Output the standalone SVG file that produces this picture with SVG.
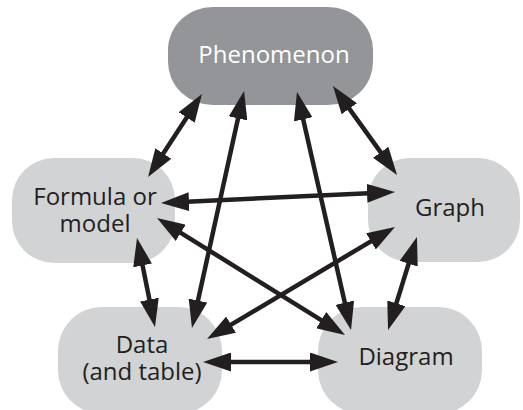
<svg xmlns="http://www.w3.org/2000/svg" width="523" height="410" viewBox="0 0 523 410">
  <defs>
    <marker id="head" viewBox="0 0 28 19" refX="18" refY="9.5" markerWidth="28" markerHeight="19" markerUnits="userSpaceOnUse" orient="auto-start-reverse">
      <path d="M0,0 L28,9.5 L0,19 Z" fill="#231f20"/>
    </marker>
    <style>
      .node { fill: #d1d3d4; }
      .main { fill: #939598; }
      .label { font-family: "Open Sans", "Liberation Sans", sans-serif; font-size: 24px; fill: #231f20; text-anchor: middle; }
      .light { fill: #ffffff; }
      .link { stroke: #231f20; stroke-width: 4.5; fill: none; marker-start: url(#head); marker-end: url(#head); }
    </style>
  </defs>
  <rect width="523" height="410" fill="#ffffff"/>

  <g id="phenomenon">
    <rect class="main" x="168" y="7" width="205" height="98" rx="45" ry="43"/>
    <text class="label light" x="274" y="63">Phenomenon</text>
  </g>
  <g id="formula">
    <rect class="node" x="12" y="158" width="163" height="105" rx="42" ry="42"/>
    <text class="label" x="95" y="205">Formula or</text>
    <text class="label" x="95" y="232">model</text>
  </g>
  <g id="graph">
    <rect class="node" x="368" y="158" width="152" height="104" rx="42" ry="42"/>
    <text class="label" x="450" y="216">Graph</text>
  </g>
  <g id="data">
    <rect class="node" x="58" y="307" width="164" height="107" rx="44" ry="44"/>
    <text class="label" x="142" y="353">Data</text>
    <text class="label" x="142" y="380">(and table)</text>
  </g>
  <g id="diagram">
    <rect class="node" x="318" y="307" width="164" height="107" rx="44" ry="44"/>
    <text class="label" x="406" y="365">Diagram</text>
  </g>

  <g id="connectors">
    <line class="link" x1="196.5" y1="102.4" x2="153.5" y2="168.6"/>
    <line class="link" x1="241.9" y1="100.8" x2="194.1" y2="318.2"/>
    <line class="link" x1="299.2" y1="101.8" x2="348.8" y2="320.2"/>
    <line class="link" x1="338.8" y1="94.1" x2="391.2" y2="166.9"/>
    <line class="link" x1="171.0" y1="202.5" x2="385.0" y2="192.5"/>
    <line class="link" x1="165.5" y1="223.3" x2="336.5" y2="329.7"/>
    <line class="link" x1="386.4" y1="232.1" x2="215.6" y2="333.9"/>
    <line class="link" x1="139.0" y1="247.8" x2="153.0" y2="317.2"/>
    <line class="link" x1="213" y1="362" x2="328" y2="362"/>
    <line class="link" x1="414.0" y1="246.5" x2="391.0" y2="320.5"/>
  </g>
</svg>
